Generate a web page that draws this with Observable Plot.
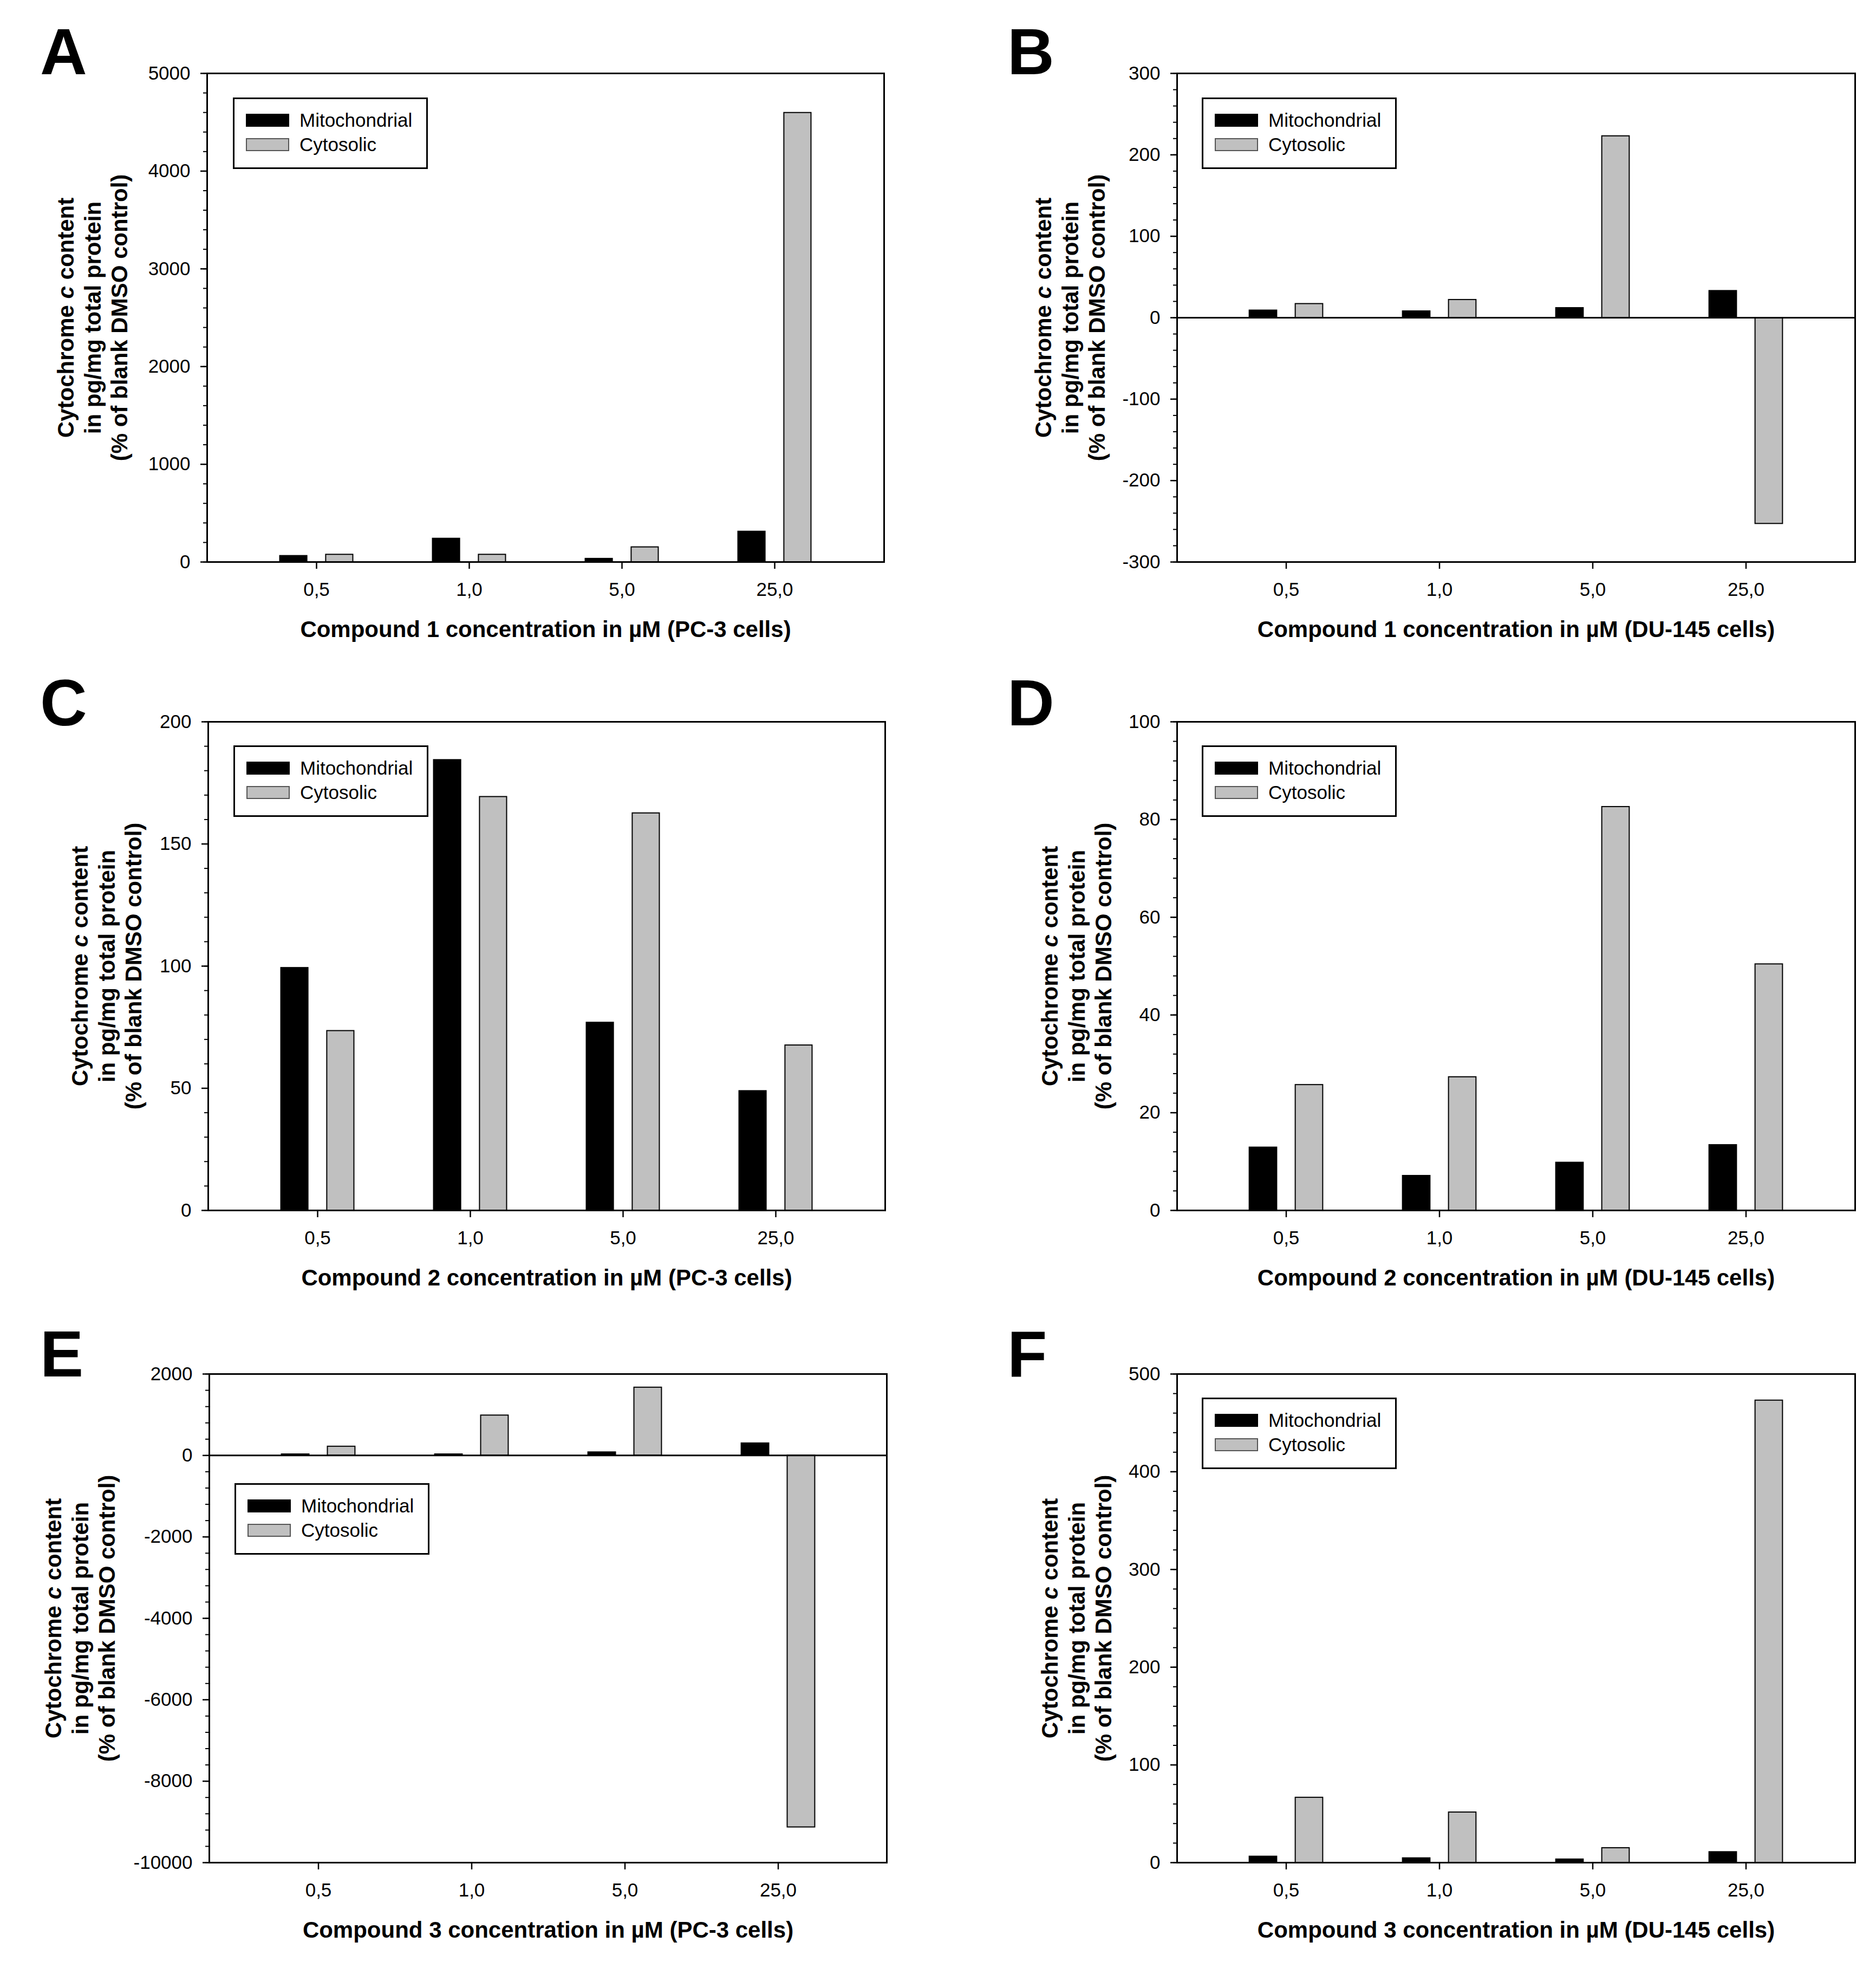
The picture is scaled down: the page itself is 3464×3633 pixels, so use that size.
<!DOCTYPE html>
<html>
<head>
<meta charset="utf-8">
<script src="https://cdn.jsdelivr.net/npm/d3@7"></script>
<script src="https://cdn.jsdelivr.net/npm/@observablehq/plot@0.6"></script>
<style>
  body { margin: 0; background: white; font-family: "Liberation Sans", Arial, sans-serif; }
  #page { position: relative; width: 3464px; height: 3633px; background: white; }
  .panel { position: absolute; }
  .letter { position: absolute; font-size: 120px; font-weight: bold; line-height: 1; }
  .legend { position: absolute; width: 354px; height: 126px; border: 3px solid black; background: white; box-sizing: content-box; }
  .legend .row { position: absolute; left: 0; height: 40px; display: flex; align-items: center; font-size: 35px; }
  .legend .sw { position: absolute; left: 21px; width: 80px; height: 24px; box-sizing: border-box; }
  .legend .lab { position: absolute; left: 120px; white-space: nowrap; }
</style>
</head>
<body>
<div id="page"></div>
<script>
// categories
const concentrations = ["0,5", "1,0", "5,0", "25,0"]
const series = ["Mitochondrial", "Cytosolic"]

// values (% of blank DMSO control)
const mitoA = [63, 240, 34, 312]
const cytoA = [76, 76, 152, 4597]
const mitoB = [9, 8, 12, 33]
const cytoB = [17, 22, 223, -253]
const mitoC = [99.3, 184.4, 76.9, 48.9]
const cytoC = [73.5, 169.3, 162.6, 67.6]
const mitoD = [12.9, 7.1, 9.8, 13.4]
const cytoD = [25.7, 27.3, 82.6, 50.4]
const mitoE = [30, 30, 80, 300]
const cytoE = [220, 985, 1670, -9130]
const mitoF = [6.3, 4.6, 3.4, 10.9]
const cytoF = [66.6, 51.5, 15, 473]

// y tick labels
const ticksA = [0, 1000, 2000, 3000, 4000, 5000]
const ticksB = [-300, -200, -100, 0, 100, 200, 300]
const ticksC = [0, 50, 100, 150, 200]
const ticksD = [0, 20, 40, 60, 80, 100]
const ticksE = [-10000, -8000, -6000, -4000, -2000, 0, 2000]
const ticksF = [0, 100, 200, 300, 400, 500]

const xLabels = [
  "Compound 1 concentration in µM (PC-3 cells)",
  "Compound 1 concentration in µM (DU-145 cells)",
  "Compound 2 concentration in µM (PC-3 cells)",
  "Compound 2 concentration in µM (DU-145 cells)",
  "Compound 3 concentration in µM (PC-3 cells)",
  "Compound 3 concentration in µM (DU-145 cells)"
]
const yLabel = "Cytochrome c content\nin pg/mg total protein\n(% of blank DMSO control)"

const panels = [
  {letter: "A", mito: mitoA, cyto: cytoA, ticks: ticksA, minor: 200},
  {letter: "B", mito: mitoB, cyto: cytoB, ticks: ticksB, minor: 20, zero: true},
  {letter: "C", mito: mitoC, cyto: cytoC, ticks: ticksC, minor: 10},
  {letter: "D", mito: mitoD, cyto: cytoD, ticks: ticksD, minor: 4},
  {letter: "E", mito: mitoE, cyto: cytoE, ticks: ticksE, minor: 400, zero: true},
  {letter: "F", mito: mitoF, cyto: cytoF, ticks: ticksF, minor: 20}
]

// layout per panel (pixels)
const layout = [
  {x: 0, y: 0, mL: 382, mR: 100, labDx: -213, legX: 48, legY: 45, letterTop: 35},
  {x: 1732, y: 0, mL: 441, mR: 39, labDx: -199, legX: 46, legY: 45, letterTop: 35},
  {x: 0, y: 1197, mL: 384, mR: 98, labDx: -189, legX: 47, legY: 44, letterTop: 40},
  {x: 1732, y: 1197, mL: 441, mR: 39, labDx: -187, legX: 46, legY: 44, letterTop: 40},
  {x: 0, y: 2401, mL: 386, mR: 95, labDx: -240, legX: 47, legY: 202, letterTop: 38},
  {x: 1732, y: 2401, mL: 441, mR: 39, labDx: -187, legX: 46, legY: 44, letterTop: 38}
]

const page = d3.select("#page")
const W = 1732, mT = 135, mB = 160, plotH = 902
const H = mT + plotH + mB
const padOuter = 0.21

panels.forEach((p, i) => {
  const L = layout[i]
  const rows = []
  concentrations.forEach((c, j) => {
    rows.push({conc: c, series: series[0], value: p.mito[j]})
    rows.push({conc: c, series: series[1], value: p.cyto[j]})
  })
  const step = (W - L.mL - L.mR) / (concentrations.length + 2 * padOuter)
  const yDomain = d3.extent(p.ticks)
  const minorTicks = d3.range(yDomain[0], yDomain[1] + 1e-9, p.minor)

  const chart = Plot.plot({
    width: W,
    height: H,
    marginLeft: L.mL,
    marginRight: L.mR,
    marginTop: mT,
    marginBottom: mB,
    style: {fontFamily: '"Liberation Sans", Arial, sans-serif', fontSize: "35px", color: "black", background: "white"},
    x: {type: "band", domain: concentrations, paddingInner: 0, paddingOuter: padOuter, axis: null, label: null},
    y: {domain: yDomain, nice: false, axis: null, label: null},
    marks: [
      Plot.barY(rows.filter(d => d.series === series[0]), {
        x: "conc", y: "value", fill: "black", stroke: "black", strokeWidth: 2,
        insetLeft: 0.26 * step, insetRight: 0.56 * step
      }),
      Plot.barY(rows.filter(d => d.series === series[1]), {
        x: "conc", y: "value", fill: "#c0c0c0", stroke: "black", strokeWidth: 2,
        insetLeft: 0.56 * step, insetRight: 0.26 * step
      }),
      p.zero ? Plot.ruleY([0], {stroke: "black", strokeWidth: 3}) : null,
      Plot.frame({stroke: "black", strokeWidth: 3}),
      Plot.axisY(minorTicks, {tickSize: 7, tickFormat: () => "", strokeWidth: 2, label: null}),
      Plot.axisY(p.ticks, {tickSize: 12, tickPadding: 19, tickFormat: d => `${d}`, fontSize: 35, strokeWidth: 2.5, label: null}),
      Plot.axisX({tickSize: 13, tickPadding: 25, fontSize: 35, strokeWidth: 2.5, label: null}),
      Plot.text([xLabels[i]], {
        text: d => d, frameAnchor: "bottom", dy: 125, lineAnchor: "middle",
        fontSize: 42, fontWeight: "bold"
      }),
      Plot.text([yLabel], {
        text: d => d, frameAnchor: "left", dx: L.labDx, rotate: -90,
        textAnchor: "middle", lineAnchor: "middle", lineHeight: 1.19,
        fontSize: 42, fontWeight: "bold"
      })
    ]
  })

  // italic "c" in Cytochrome c
  d3.select(chart).selectAll("tspan")
    .filter(function () { return this.textContent === "Cytochrome c content" })
    .each(function () {
      const t = d3.select(this).text(null)
      t.append("tspan").text("Cytochrome ")
      t.append("tspan").attr("font-style", "italic").text("c")
      t.append("tspan").text(" content")
    })

  const div = page.append("div").attr("class", "panel")
    .style("left", L.x + "px").style("top", L.y + "px")
    .style("width", W + "px").style("height", H + "px")
  div.append(() => chart)

  div.append("div").attr("class", "letter")
    .style("left", (L.x === 0 ? 74 : 128) + "px")
    .style("top", L.letterTop + "px")
    .text(p.letter)

  const leg = div.append("div").attr("class", "legend")
    .style("left", (L.mL + L.legX) + "px")
    .style("top", (mT + L.legY) + "px")
  const legendFill = ["black", "#c0c0c0"]
  series.forEach((s, k) => {
    const r = leg.append("div").attr("class", "row").style("top", (19 + k * 45) + "px")
    r.append("span").attr("class", "sw")
      .style("background", legendFill[k])
      .style("border", k === 0 ? "2px solid black" : "2px solid #555")
      .style("top", "8px")
    r.append("span").attr("class", "lab").text(s)
  })
})
</script>
</body>
</html>
